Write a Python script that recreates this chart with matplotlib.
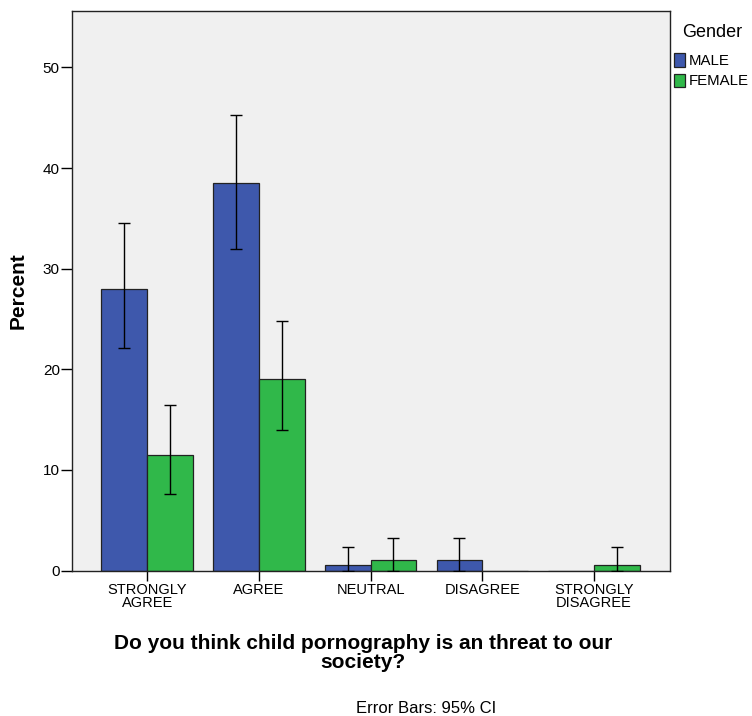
import numpy as np
import matplotlib
matplotlib.use("Agg")
import matplotlib.pyplot as plt

plt.rcParams['font.family'] = ['Liberation Sans', 'DejaVu Sans']

# data (percent, 95% CI bounds)
categories = ["STRONGLY\nAGREE", "AGREE", "NEUTRAL", "DISAGREE", "STRONGLY\nDISAGREE"]
male = [28.0, 38.5, 0.5, 1.0, 0.0]
male_lo = [22.1, 32.0, 0.0, 0.0, 0.0]
male_hi = [34.5, 45.3, 2.3, 3.2, 0.0]
female = [11.5, 19.0, 1.0, 0.0, 0.5]
female_lo = [7.6, 14.0, 0.0, 0.0, 0.0]
female_hi = [16.4, 24.8, 3.2, 0.0, 2.3]

BLUE = "#3E58AC"
GREEN = "#30B84A"

fig = plt.figure(figsize=(7.52, 7.16), dpi=100)
ax = fig.add_axes([0.0961, 0.2032, 0.7949, 0.7814])
ax.set_facecolor("#F0F0F0")

x = np.arange(len(categories))
w = 0.41

def draw(offset, vals, lo, hi, color, label, show_err):
    bars = ax.bar(x + offset, vals, width=w, color=color, edgecolor="#222222",
                  linewidth=0.9, label=label, zorder=2)
    for xi, v, l, h, s in zip(x + offset, vals, lo, hi, show_err):
        if s:
            ax.errorbar(xi, v, yerr=[[v - l], [h - v]], fmt="none", ecolor="black",
                        elinewidth=1, capsize=4, capthick=1, zorder=3)
    return bars

draw(-w / 2, male, male_lo, male_hi, BLUE, "MALE", [True, True, True, True, False])
draw(w / 2, female, female_lo, female_hi, GREEN, "FEMALE", [True, True, True, False, True])

ax.set_xlim(-0.67, 4.68)
ax.set_ylim(0, 55.6)
ax.set_yticks([0, 10, 20, 30, 40, 50])
ax.set_xticks(x)
ax.set_xticklabels(categories, fontsize=10.5, linespacing=0.9)
ax.tick_params(axis="y", labelsize=11, length=8, width=1, pad=1)
ax.tick_params(axis="x", length=7, width=1, pad=2)
for sp in ax.spines.values():
    sp.set_color("#222222")
    sp.set_linewidth(1)

ax.set_ylabel("Percent", fontsize=15, fontweight="bold", labelpad=11)
ax.set_xlabel("Do you think child pornography is an threat to our\nsociety?",
              fontsize=15, fontweight="bold", linespacing=1.0)
ax.xaxis.set_label_coords(0.487, -0.113)

# legend title drawn separately so its gap to the entries can be set
fig.text(0.947, 0.955, "Gender", fontsize=13, ha="center", va="center")
leg = fig.legend(loc="upper left", bbox_to_anchor=(0.882, 0.940), frameon=False,
                 fontsize=10.8, handlelength=0.75, handleheight=1.0,
                 handletextpad=0.25, labelspacing=0.35, borderpad=0.2)

fig.text(0.566, 0.011, "Error Bars: 95% CI", fontsize=12, ha="center", va="center")

plt.savefig("out.png", dpi=100)
